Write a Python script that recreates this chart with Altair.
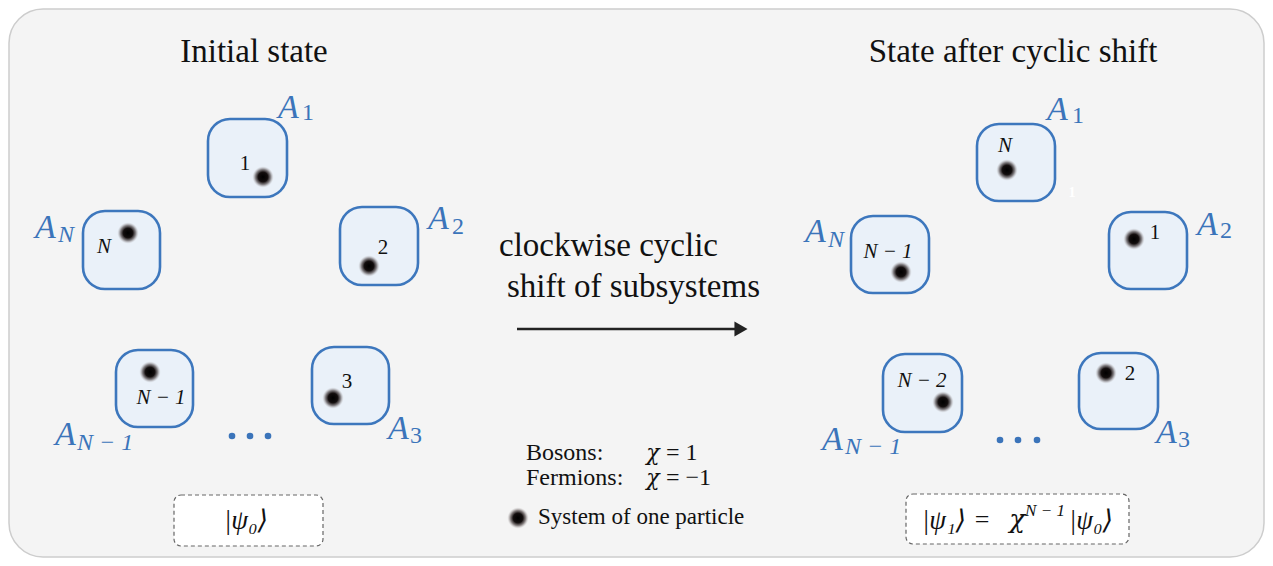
import altair as alt
import pandas as pd

W, H = 1257, 550
SERIF = "Liberation Serif, DejaVu Serif, serif"
MATH = "DejaVu Serif, Liberation Serif, serif"
BLUE = "#3b74ba"

# ---------------- data ----------------
panel_x, panel_x2, panel_y, panel_y2 = [9], [1264], [9], [557]

box_x0 = [208, 83, 340, 116, 312, 977, 851, 1109, 883, 1079]
box_x1 = [287, 160, 418, 193, 389, 1055, 929, 1187, 962, 1158]
box_y0 = [119, 211, 207, 350, 347, 124, 216, 212, 354, 353]
box_y1 = [197, 289, 285, 427, 424, 201, 293, 289, 432, 429]

dot_x = [263, 128, 369, 150, 333, 1007, 901, 1134, 943, 1106, 518]
dot_y = [177, 233, 266, 372, 398, 170, 272, 239, 402, 373, 518]

ell_x = [232, 250, 268, 1000, 1018, 1037]
ell_y = [436, 436, 436, 440, 440, 440]

dash_x0 = [174, 906]
dash_x1 = [323, 1129]
dash_y0 = [495, 494]
dash_y1 = [546, 544]

arrow_x, arrow_x2, arrow_y = [517], [737], [329]
head_x, head_y = [741], [329]

# texts
left_txt = ["clockwise cyclic", "shift of subsystems", "Bosons:", "Fermions:",
            "= 1", "= −1", "System of one particle"]
left_x = [499, 507, 526, 526, 666, 666, 538]
left_y = [256, 297, 460, 485, 460, 485, 524]
left_s = [33, 33, 24, 24, 24, 24, 23]

chi_txt = ["χ", "χ", "χ"]
chi_x = [653, 653, 1017]
chi_y = [460, 485, 528]
chi_s = [22, 22, 26]

title_txt = ["Initial state", "State after cyclic shift"]
title_x = [254, 1013]
title_y = [62, 62]
title_s = [33, 33]

num_txt = ["1", "2", "3", "1", "2"]
num_x = [245, 383, 347, 1155, 1130]
num_y = [164, 248, 382, 233, 374]

nlab_txt = ["N", "N − 1", "N", "N − 1", "N − 2"]
nlab_x = [104, 161, 1005, 888, 922]
nlab_y = [247, 398, 146, 252, 381]

a_x = [278, 428, 35, 55, 388, 1047, 1197, 805, 822, 1156]
a_y = [118, 229, 238, 445, 439, 120, 235, 242, 450, 443]

subd_txt = ["1", "2", "3", "1", "2", "3"]
subd_x = [302, 452, 410, 1072, 1220, 1178]
subd_y = [120, 234, 443, 123, 238, 447]

subn_txt = ["N", "N − 1", "N", "N − 1"]
subn_x = [58, 77, 828, 845]
subn_y = [242, 450, 247, 454]

psi_txt = ["|ψ₀⟩", "|ψ₁⟩", "|ψ₀⟩"]
psi_x = [246, 944, 1091]
psi_y = [529, 529, 529]

eq_txt, eq_x, eq_y = ["="], [982], [528]
sup_txt, sup_x, sup_y = ["N − 1"], [1045], [516]

stray_txt, stray_x, stray_y = ["1"], [1072], [193]

# ---------------- scales ----------------
xs = alt.Scale(domain=[8, 8 + W], nice=False, zero=False)
ys = alt.Scale(domain=[8, 8 + H], nice=False, zero=False, reverse=True)


def X(f="x"):
    return alt.X(f"{f}:Q", scale=xs, axis=None)


def Y(f="y"):
    return alt.Y(f"{f}:Q", scale=ys, axis=None)


def rect_layer(x0, x1, y0, y1, **kw):
    df = pd.DataFrame({"x": x0, "x2": x1, "y": y0, "y2": y1})
    return alt.Chart(df).mark_rect(**kw).encode(
        x=X(), x2="x2:Q", y=Y(), y2="y2:Q")


def text_layer(txt, x, y, size, font=SERIF, **kw):
    if not isinstance(size, list):
        size = [size] * len(txt)
    df = pd.DataFrame({"t": txt, "x": x, "y": y, "s": size})
    return alt.Chart(df).mark_text(font=font, **kw).encode(
        x=X(), y=Y(), text="t:N", size=alt.Size("s:Q", scale=None))


panel = rect_layer(panel_x, panel_x2, panel_y, panel_y2,
                   fill="#f4f4f4", stroke="#cdcdcd", strokeWidth=1.5,
                   cornerRadius=34)

boxes = rect_layer(box_x0, box_x1, box_y0, box_y1,
                   fill="#eaf1f9", stroke="#3d77bd", strokeWidth=2.6,
                   cornerRadius=22)

dashed = rect_layer(dash_x0, dash_x1, dash_y0, dash_y1,
                    fill="#ffffff", stroke="#666666", strokeWidth=1.2,
                    strokeDash=[4, 3], cornerRadius=7)

grad = alt.RadialGradient(
    gradient="radial",
    x1=0.5, y1=0.5, r1=0, x2=0.5, y2=0.5, r2=0.5,
    stops=[
        alt.GradientStop(offset=0.0, color="#000000"),
        alt.GradientStop(offset=0.45, color="#120d0d"),
        alt.GradientStop(offset=0.7, color="rgba(55,45,45,0.6)"),
        alt.GradientStop(offset=0.88, color="rgba(120,110,110,0.22)"),
        alt.GradientStop(offset=1.0, color="rgba(220,220,220,0)"),
    ],
)
dots = alt.Chart(pd.DataFrame({"x": dot_x, "y": dot_y})).mark_circle(
    fill=grad, size=460, opacity=1, strokeWidth=0).encode(x=X(), y=Y())

ellipsis = alt.Chart(pd.DataFrame({"x": ell_x, "y": ell_y})).mark_circle(
    color=BLUE, size=44, opacity=1).encode(x=X(), y=Y())

arrow = alt.Chart(pd.DataFrame({"x": arrow_x, "x2": arrow_x2, "y": arrow_y})).mark_rule(
    color="#222222", strokeWidth=2.6).encode(x=X(), x2="x2:Q", y=Y())
head = alt.Chart(pd.DataFrame({"x": head_x, "y": head_y})).mark_point(
    shape="triangle-right", filled=True, color="#222222", size=230, opacity=1).encode(x=X(), y=Y())

layers = [
    panel, boxes, dashed, dots, ellipsis, arrow, head,
    text_layer(left_txt, left_x, left_y, left_s, align="left", baseline="alphabetic", color="#111111"),
    text_layer(chi_txt, chi_x, chi_y, chi_s, font=MATH, align="center", baseline="alphabetic", color="#111111", fontStyle="italic"),
    text_layer(title_txt, title_x, title_y, title_s, align="center", baseline="alphabetic", color="#111111"),
    text_layer(num_txt, num_x, num_y, 21, align="center", baseline="middle", color="#111111"),
    text_layer(nlab_txt, nlab_x, nlab_y, 21, align="center", baseline="middle", color="#111111", fontStyle="italic"),
    text_layer(["A"] * len(a_x), a_x, a_y, 34, align="left", baseline="alphabetic", color=BLUE, fontStyle="italic"),
    text_layer(subd_txt, subd_x, subd_y, 24, align="left", baseline="alphabetic", color=BLUE),
    text_layer(subn_txt, subn_x, subn_y, 24, align="left", baseline="alphabetic", color=BLUE, fontStyle="italic"),
    text_layer(psi_txt, psi_x, psi_y, 27, align="center", baseline="alphabetic", color="#111111", fontStyle="italic"),
    text_layer(eq_txt, eq_x, eq_y, 26, align="center", baseline="alphabetic", color="#111111"),
    text_layer(sup_txt, sup_x, sup_y, 17, align="center", baseline="alphabetic", color="#111111", fontStyle="italic"),
    text_layer(stray_txt, stray_x, stray_y, 14, align="center", baseline="middle", color="#ffffff", fontWeight="bold"),
]

chart = alt.layer(*layers).properties(
    width=W, height=H, autosize=alt.AutoSizeParams(type="none"), padding=0,
    background="#ffffff",
).configure_view(stroke=None)

chart.save("out.html", embed_options={"renderer": "svg", "actions": False})
